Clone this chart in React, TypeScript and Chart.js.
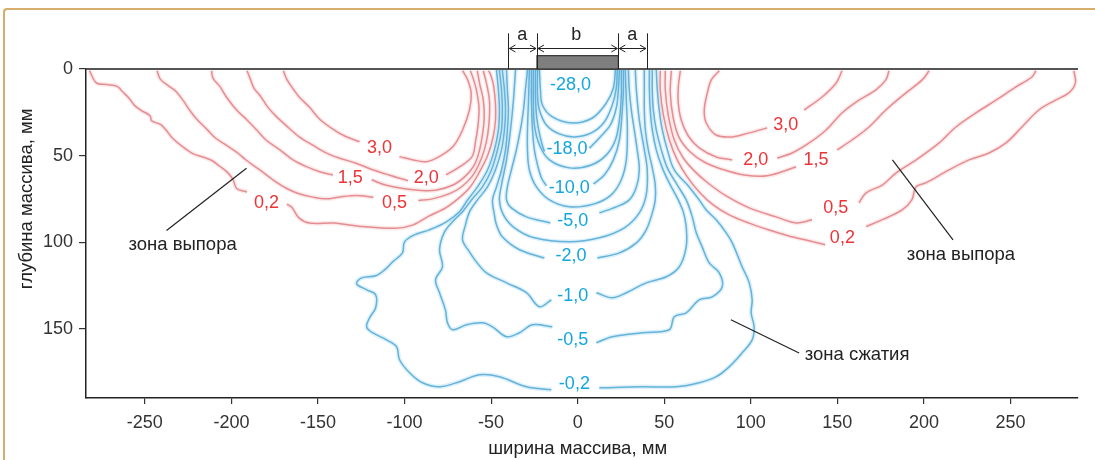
import React, { useEffect, useRef } from 'react';
import { Chart, registerables } from 'chart.js';

Chart.register(...registerables);

type P = [number, number];

const FONT = '"Liberation Sans", Arial, Helvetica, sans-serif';

// ---- axes ----
const xTicks = [-250, -200, -150, -100, -50, 0, 50, 100, 150, 200, 250];
const yTicks = [0, 50, 100, 150];
const xRange = [-284, 289];
const yRange = [0, 190];
const xTitle = 'ширина массива, мм';
const yTitle = 'глубина массива, мм';

// ---- footing (mm) ----
const footingHalfWidth = 23.5;
const sideZoneEdge = 40;
const footingHeight = 7.7;
const dimensionTop = -20.6;
const dimensionArrowLevel = -11.9;
const dimensionLabels: [string, number][] = [['a', -32], ['b', -0.8], ['a', 31.6]];
const dimensionLabelLevel = -19.6;

// ---- heave zone contours (positive, red) ----
const heave02L1: P[] = [[-282,1],[-278,8],[-272,9],[-266,10],[-263,13],[-259,17],[-256,21],[-252,24],[-247,27],[-246,30],[-241,32],[-238,35],[-234,40],[-228,45],[-222,49],[-216,51],[-211,53],[-207,56],[-202,60],[-199,64],[-197,69],[-191,71]];
const heave02L2: P[] = [[-168,78],[-165,80],[-161,86],[-155,89],[-141,89],[-124,91],[-105,92],[-95,90],[-86,85],[-76,80],[-68,74],[-62,68],[-57,60],[-52,50],[-49,40],[-47.5,30],[-47.5,20],[-48.5,10],[-50,4],[-51.5,1]];
const heave05L1: P[] = [[-243,1],[-241,6],[-236,10],[-232,13],[-228,18],[-224,24],[-220,29],[-214,35],[-209,40],[-203,44],[-197,48],[-191,53],[-184,58],[-176,64],[-168,69],[-161,72],[-153,74],[-145,75],[-138,74],[-128,73],[-118,74]];
const heave05L2: P[] = [[-92,76],[-84,75],[-74,72],[-67,68],[-61,62],[-57,55],[-54,47],[-52,38],[-51,28],[-51,18],[-52.5,9],[-54.5,1]];
const heave15L1: P[] = [[-211.5,1],[-210.6,5.4],[-206.7,10],[-203,16],[-197,23.7],[-191,29.4],[-185.6,35],[-180,41],[-172,46.7],[-164.4,52.5],[-156.7,56.4],[-149,59.3],[-141.4,61.2]];
const heave15L2: P[] = [[-119,64],[-111,67],[-101,69],[-92,70],[-82,70],[-72,67],[-65,62],[-60,56],[-57,48],[-55,38],[-54,28],[-54.5,18],[-56.5,9],[-58,1]];
const heave20L1: P[] = [[-191,1],[-189,6],[-187,11],[-183,16],[-179,22],[-174,27.5],[-168,33],[-161,39],[-153,44],[-145,48.6],[-137.5,51.5],[-128,54.4],[-118,58.3],[-109,61.2],[-98,64.5]];
const heave20L2: P[] = [[-76,61.2],[-68,56.4],[-61,50.6],[-59,42],[-57.5,32],[-57,22],[-58.5,12],[-60.5,5],[-62,1]];
const heave30L1: P[] = [[-170,1],[-168,6],[-164,12],[-161,16],[-155,22],[-149,29],[-141,35],[-134,39],[-126,42]];
const heave30L2: P[] = [[-103,50.6],[-95,52.5],[-87.5,53.5],[-80,50.6],[-72,44.8],[-66.5,35.2],[-62.5,23.7],[-61.5,14],[-63.5,6.3],[-66.5,1]];

const heave02R1: P[] = [[47.7,1],[47.7,12],[49.5,26.5],[53,41],[57.5,52.5],[63.3,62.3],[70.2,71],[78.3,78.5],[87.5,84.2],[99,89],[110.6,93],[122,96.4],[133.7,99.2],[143,101.5]];
const heave02R2: P[] = [[166.6,91],[176,87],[187.4,81.4],[193,75.6],[195.5,68],[201,65.8],[214.5,58.3],[226,52.5],[237.6,48.5],[247.4,42.7],[256.6,33.5],[266.4,23.7],[276,18],[283.7,13.8],[287.5,8],[286.6,1]];
const heave05R1: P[] = [[50.6,1],[50.6,12],[52.3,26.5],[55.8,41],[61,51.4],[67.9,59.4],[76,66.4],[85.8,73.3],[99.1,80.2],[114.7,85.4],[126.2,88.9],[135.4,87.1]];
const heave05R2: P[] = [[162.5,77.3],[166.6,71.5],[176,67],[184,60],[195.5,52.5],[208.8,42.7],[218.5,33.5],[230,25.4],[241.6,18],[253,10.4],[262.4,4.6],[264.7,1]];
const heave15R1: P[] = [[54.1,1],[53.5,13.8],[55.2,28.3],[58.7,39.8],[65,47.9],[73.1,53.7],[82.9,57.7],[96.2,61.2],[109.5,61.7],[126.2,56.5]];
const heave15R2: P[] = [[149.8,46.7],[158.5,41],[168.3,33.5],[178,23.7],[189.6,13.8],[199,6.3],[203,1]];
const heave20R1: P[] = [[59.3,1],[58.1,10.4],[58.1,19.6],[59.8,29.4],[63.9,38.7],[70.2,45.6],[80,50.8],[89.3,52.5]];
const heave20R2: P[] = [[115.2,51.4],[123.9,48.5],[133.7,42.7],[143.5,35.2],[152.7,25.4],[162.5,18],[172.3,12],[178,6.3],[179.8,1]];
const heave30R1: P[] = [[81.8,1],[77.2,6.3],[74.9,13.8],[73.1,23.7],[74.3,31.2],[80,38.1],[89.3,39.2],[99.1,36.9],[109.5,34]];
const heave30R2: P[] = [[130.8,23.7],[141.2,16.2],[149.3,8.1],[152.7,1]];

// ---- compression zone contours (negative, blue) ----
const comp02a: P[] = [[-46.9,0.6],[-45.8,12.1],[-45.2,23.7],[-45.8,35.2],[-48.1,46.7],[-52.1,58.3],[-57.9,68.1],[-63.6,75.6],[-68.3,82.5],[-75.8,88.3],[-85.6,92.9],[-94.3,95.8],[-100,99.8],[-101.2,106.2],[-106.9,111.4],[-111.5,116],[-116.7,119.4],[-124.8,120.6],[-127.7,124.1],[-121.9,127.5],[-116.7,130.4],[-116.7,137.9],[-120.2,143.7],[-121.9,148.9],[-118.5,152.3],[-110.4,156.4],[-104.6,160.4],[-102.9,167.9],[-97.1,175.4],[-89.6,181.2],[-79.8,183.5],[-68.3,180.6],[-56.7,176.6],[-45.2,177.7],[-29.6,183.5],[-15.2,185.2]];
const comp02b: P[] = [[12.5,184.1],[37.3,183.5],[56.9,183.5],[70.2,181.2],[80,177.7],[87.5,172],[95,163.9],[100.8,156.4],[101.9,148.9],[100.2,140.8],[100.8,133.3],[99.1,123.5],[95,114.2],[89.3,100.4],[85.8,94.6],[80,87.1],[74.3,81.4],[70.2,75.6],[64.4,68.1],[55.8,58.3],[51.8,46.7],[48.9,35.2],[47.1,23.7],[46,12.1],[45.4,0.6]];
const comp05a: P[] = [[-45.2,0.6],[-44,12.1],[-43.5,23.7],[-44,35.2],[-46.3,46.7],[-49.8,58.3],[-55,68.1],[-61.3,75.6],[-66.5,82.5],[-71.2,87.1],[-76.9,94.1],[-79.8,104.4],[-78.1,114.2],[-82.1,121.7],[-79.8,129.2],[-76.4,139.1],[-75.2,146.6],[-72.3,150.6],[-64.2,147.7],[-55,146.6],[-49.2,148.9],[-41.1,154.6],[-33.6,152.3],[-26.1,147.7],[-14.6,148.9]];
const comp05b: P[] = [[10.8,158.1],[20,154.6],[37.3,152.3],[52.9,150.6],[55.8,143.1],[62.7,140.8],[70.2,133.3],[77.7,131.6],[83.5,125.8],[81.8,117.7],[76,112],[71.9,102.7],[68.5,94.6],[66.2,85.4],[62.7,75.6],[57.5,66.9],[51.8,57.1],[48.3,46.7],[45.4,35.2],[43.7,23.7],[43.1,12.1],[43.1,0.6]];
const comp1a: P[] = [[-43.5,0.6],[-42.3,12.1],[-41.7,23.7],[-42.3,35.2],[-44,46.7],[-47.5,58.3],[-52.1,68.1],[-57.9,75.6],[-62.5,82.5],[-64.8,90],[-66.5,98.7],[-62.5,105.6],[-58.5,111.4],[-52.7,117.7],[-41.1,123.5],[-29.6,129.2],[-22.1,137.3],[-15.2,133.3]];
const comp1b: P[] = [[10.8,129.2],[20,132.1],[28.1,129.2],[39.6,123.5],[51.2,120],[58.7,114.2],[62.7,102.7],[62.7,91.2],[61,82.5],[57.5,74.4],[52.9,65.8],[48.9,57.1],[45.4,46.7],[43.1,35.2],[41.9,23.7],[41.4,12.1],[41.4,0.6]];
const comp2a: P[] = [[-41.1,0.6],[-40.6,12.1],[-40,23.7],[-40.6,35.2],[-41.7,46.7],[-44,58.3],[-46.9,68.1],[-49.2,75.6],[-48.1,84.2],[-46.9,90],[-43.5,96.9],[-33.6,104.4],[-19.2,109.1]];
const comp2b: P[] = [[11.4,109.1],[24.1,106.2],[33.9,100.4],[39.6,92.9],[43.1,83.1],[44.8,75.6],[44.8,66.9],[43.1,57.1],[40.8,46.7],[39.1,35.2],[38.5,23.7],[38.5,12.1],[38.5,0.6]];
const comp35: P[] = [[-35.9,0.6],[-37.1,17.9],[-38.8,35.2],[-41.1,52.5],[-44,66.9],[-45.2,75.6],[-42.9,84.2],[-36.5,91.7],[-25,97.5],[-4.8,99.8],[12.5,97.5],[27,91.7],[35.6,83.1],[39.6,72.7],[40.2,58.3],[38.5,46.7],[35.6,29.4],[33.9,12.1],[33.3,0.6]];
const comp5a: P[] = [[-29,0.6],[-30.2,12.1],[-31.3,23.7],[-33.1,35.2],[-35.4,46.7],[-38.3,58.3],[-40.6,68.1],[-41.1,75.6],[-38.3,80.2],[-29.6,85.4],[-15.8,88.9]];
const comp5b: P[] = [[12.5,83.1],[22.3,79.6],[29.8,75.6],[33.9,68.1],[35.6,58.3],[34.4,46.7],[32.7,35.2],[31,23.7],[29.8,12.1],[29.3,0.6]];
const comp75: P[] = [[-27.9,0.6],[-28.4,17.9],[-29,35.2],[-29,46.7],[-27.9,58.3],[-23.8,68.1],[-16.3,75.6],[-4.8,79.6],[9.6,77.9],[19.4,72.7],[25.2,64],[28.1,52.5],[28.7,35.2],[28.1,17.9],[27.5,0.6]];
const comp10a: P[] = [[-26.7,0.6],[-26.7,17.9],[-26.1,35.2],[-25,46.7],[-23.2,55.4],[-20.9,62.9],[-18.1,67.5]];
const comp10b: P[] = [[9.1,66.4],[15.4,61.2],[20.6,52.5],[24.1,41],[25.8,23.7],[26.4,12.1],[26.4,0.6]];
const comp14: P[] = [[-25.6,0.6],[-25.6,17.9],[-25,32.3],[-22.1,43.9],[-16.3,52.5],[-4.8,57.1],[7.9,55.4],[16.6,49.6],[21.8,41],[24.1,29.4],[25.2,15],[25.2,0.6]];
const comp18a: P[] = [[-24.4,0.6],[-24.4,15],[-23.8,26.5],[-22.5,35.2],[-20.8,42.7],[-19.2,47.7]];
const comp18b: P[] = [[6.8,45.8],[12.5,39.8],[18.9,32.3],[22.3,22.5],[23.5,12.1],[24.1,0.6]];
const comp24: P[] = [[-23.2,0.6],[-23.2,15],[-22.1,23.7],[-18.1,32.3],[-10.6,37.5],[-1.9,39.2],[7.9,36.9],[15.4,30.6],[20,20.8],[22.3,11],[22.9,0.6]];
const comp28: P[] = [[-22.1,0.6],[-21.5,12.1],[-20.4,20.8],[-14.6,27.7],[-3.1,31.2],[8.5,28.3],[16.6,19.6],[20.6,11],[21.8,0.6]];

// ---- contour labels [text, x, y] ----
const heaveLabels: [string, number, number][] = [
  ['3,0', -114.4, 45.8], ['1,5', -131.3, 63.1], ['2,0', -87.5, 63.1], ['0,5', -105.8, 77.5], ['0,2', -179.8, 77.5],
  ['3,0', 120.2, 32.3], ['2,0', 102.9, 52.5], ['1,5', 137.6, 52.5], ['0,5', 149.1, 80.4], ['0,2', 152.9, 97.7],
];
const compLabels: [string, number, number][] = [
  ['-28,0', -4.2, 9.2], ['-18,0', -6.2, 46.5], ['-10,0', -4.8, 68.9], ['-5,0', -2.9, 87.7],
  ['-2,0', -3.8, 107.9], ['-1,0', -2.9, 131], ['-0,5', -2.9, 156.4], ['-0,2', -1.9, 181.8],
];

// ---- zone annotations ----
const zoneLeaders: [number, number, number, number][] = [
  [-237.5, 93.3, -191.3, 57.3],
  [181.8, 52.5, 216.8, 98.7],
  [88.5, 144.8, 127.9, 164],
];
const zoneTexts: [string, number, number][] = [
  ['зона выпора', -228.2, 101.6],
  ['зона выпора', 221.4, 107.3],
  ['зона сжатия', 161.4, 165],
];

const heaveSegments: P[][] = [
  heave02L1, heave02L2, heave05L1, heave05L2, heave15L1, heave15L2, heave20L1, heave20L2, heave30L1, heave30L2,
  heave02R1, heave02R2, heave05R1, heave05R2, heave15R1, heave15R2, heave20R1, heave20R2, heave30R1, heave30R2,
];
const compSegments: P[][] = [
  comp02a, comp02b, comp05a, comp05b, comp1a, comp1b, comp2a, comp2b, comp35, comp5a, comp5b,
  comp75, comp10a, comp10b, comp14, comp18a, comp18b, comp24, comp28,
];

const toXY = (seg: P[]) => seg.map(([x, y]) => ({ x, y }));

function buildDatasets() {
  const ds: any[] = [];
  const add = (seg: P[], halo: string, core: string) => {
    ds.push({ data: toXY(seg), borderColor: halo, borderWidth: 4.5, pointRadius: 0, tension: 0.35, fill: false, order: 2 });
    ds.push({ data: toXY(seg), borderColor: core, borderWidth: 1.5, pointRadius: 0, tension: 0.35, fill: false, order: 1 });
  };
  heaveSegments.forEach((s) => add(s, 'rgba(245,170,170,0.25)', 'rgba(225,125,130,0.85)'));
  compSegments.forEach((s) => add(s, 'rgba(130,205,240,0.28)', 'rgba(85,168,212,0.88)'));
  return ds;
}

const overlayPlugin = {
  id: 'overlay',
  afterDatasetsDraw(chart: any) {
    const { ctx, chartArea } = chart;
    const xs = chart.scales.x;
    const ys = chart.scales.y;
    const X = (v: number) => xs.getPixelForValue(v);
    const Y = (v: number) => ys.getPixelForValue(v);
    ctx.save();

    // surface line
    ctx.strokeStyle = '#555';
    ctx.lineWidth = 2;
    ctx.beginPath();
    ctx.moveTo(chartArea.left, Y(0));
    ctx.lineTo(chartArea.right, Y(0));
    ctx.stroke();

    // footing
    const fl = X(-footingHalfWidth), fr = X(footingHalfWidth);
    ctx.fillStyle = '#7f7f7f';
    ctx.fillRect(fl, Y(-footingHeight), fr - fl, Y(0) - Y(-footingHeight));
    ctx.strokeStyle = '#333';
    ctx.lineWidth = 1.2;
    ctx.strokeRect(fl, Y(-footingHeight), fr - fl, Y(0) - Y(-footingHeight));

    // dimension lines
    ctx.strokeStyle = '#222';
    ctx.lineWidth = 1;
    [-sideZoneEdge, -footingHalfWidth, footingHalfWidth, sideZoneEdge].forEach((v) => {
      const px = Math.round(X(v)) + 0.5;
      ctx.beginPath();
      ctx.moveTo(px, Y(dimensionTop));
      ctx.lineTo(px, Y(0));
      ctx.stroke();
    });
    const arrow = (a: number, b: number) => {
      const y0 = Math.round(Y(dimensionArrowLevel)) + 0.5;
      const x1 = X(a) + 1, x2 = X(b) - 1;
      ctx.beginPath();
      ctx.moveTo(x1, y0); ctx.lineTo(x2, y0);
      ctx.moveTo(x1 + 6, y0 - 3.5); ctx.lineTo(x1, y0); ctx.lineTo(x1 + 6, y0 + 3.5);
      ctx.moveTo(x2 - 6, y0 - 3.5); ctx.lineTo(x2, y0); ctx.lineTo(x2 - 6, y0 + 3.5);
      ctx.stroke();
    };
    arrow(-sideZoneEdge, -footingHalfWidth);
    arrow(-footingHalfWidth, footingHalfWidth);
    arrow(footingHalfWidth, sideZoneEdge);
    ctx.fillStyle = '#222';
    ctx.font = `18px ${FONT}`;
    ctx.textAlign = 'center';
    ctx.textBaseline = 'middle';
    dimensionLabels.forEach(([t, v]) => ctx.fillText(t, X(v), Y(dimensionLabelLevel)));

    // contour labels
    ctx.font = `18px ${FONT}`;
    ctx.fillStyle = '#EE3338';
    heaveLabels.forEach(([t, x, y]) => ctx.fillText(t, X(x), Y(y)));
    ctx.fillStyle = '#12A6E0';
    compLabels.forEach(([t, x, y]) => ctx.fillText(t, X(x), Y(y)));

    // zone leaders and texts
    ctx.strokeStyle = '#222';
    ctx.lineWidth = 1.2;
    zoneLeaders.forEach(([x1, y1, x2, y2]) => {
      ctx.beginPath();
      ctx.moveTo(X(x1), Y(y1));
      ctx.lineTo(X(x2), Y(y2));
      ctx.stroke();
    });
    ctx.fillStyle = '#222';
    ctx.font = `18.5px ${FONT}`;
    zoneTexts.forEach(([t, x, y]) => ctx.fillText(t, X(x), Y(y)));

    // axis titles
    ctx.font = `18.5px ${FONT}`;
    ctx.fillStyle = '#222';
    ctx.fillText(xTitle, X(0), chart.height - 11);
    ctx.translate(27, Y(75));
    ctx.rotate(-Math.PI / 2);
    ctx.fillText(yTitle, 0, 0);

    ctx.restore();
  },
};

export default function App() {
  const ref = useRef<HTMLCanvasElement | null>(null);
  useEffect(() => {
    if (!ref.current) return;
    const chart = new Chart(ref.current, {
      type: 'line',
      data: { datasets: buildDatasets() },
      options: {
        animation: false,
        responsive: false,
        devicePixelRatio: 1,
        events: [],
        layout: { padding: { left: 0, right: 17, top: 69, bottom: 0 } },
        plugins: { legend: { display: false }, tooltip: { enabled: false } },
        scales: {
          x: {
            type: 'linear',
            min: xRange[0],
            max: xRange[1],
            afterBuildTicks: (s: any) => { s.ticks = xTicks.map((v) => ({ value: v })); },
            afterFit: (s: any) => { s.height = 62; },
            grid: { drawOnChartArea: false, drawTicks: true, tickLength: 6, color: '#333', lineWidth: 1.2 },
            border: { display: true, color: '#222', width: 1.5 },
            ticks: { color: '#333', font: { family: FONT, size: 18 }, padding: 8, maxRotation: 0, autoSkip: false, callback: (v: any) => String(v) },
          },
          y: {
            type: 'linear',
            reverse: true,
            min: yRange[0],
            max: yRange[1],
            afterBuildTicks: (s: any) => { s.ticks = yTicks.map((v) => ({ value: v })); },
            afterFit: (s: any) => { s.width = 86; },
            grid: { drawOnChartArea: false, drawTicks: true, tickLength: 7, color: '#333', lineWidth: 1.2 },
            border: { display: true, color: '#222', width: 1.5 },
            ticks: { color: '#333', font: { family: FONT, size: 18 }, padding: 6, autoSkip: false, callback: (v: any) => String(v) },
          },
        },
      },
      plugins: [overlayPlugin],
    } as any);
    return () => chart.destroy();
  }, []);

  return (
    <div style={{ position: 'fixed', left: 0, top: 0, width: 1095, height: 460, background: '#fff', overflow: 'hidden' }}>
      <div
        style={{
          position: 'absolute', left: 3, top: 8, width: 1300, height: 700,
          borderTop: '2.5px solid #D5AD6D', borderLeft: '2.5px solid #D5AD6D', borderRight: 'none', borderBottom: 'none',
          borderTopLeftRadius: 4,
        }}
      />
      <canvas ref={ref} width={1095} height={460} style={{ position: 'absolute', left: 0, top: 0, display: 'block' }} />
    </div>
  );
}
